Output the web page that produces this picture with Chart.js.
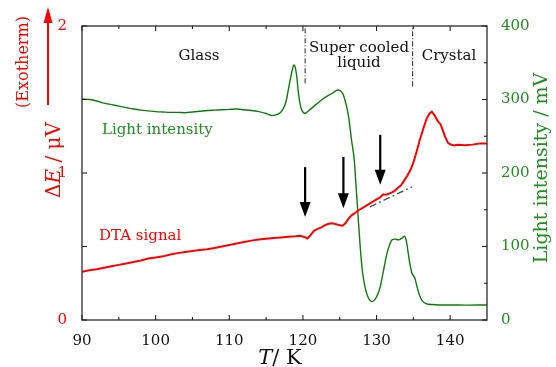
<!DOCTYPE html>
<html><head><meta charset="utf-8">
<script src="https://cdn.jsdelivr.net/npm/chart.js@4.4.1/dist/chart.umd.min.js"></script>
<style>html,body{margin:0;padding:0;background:#fff}canvas{display:block}</style>
</head><body>
<canvas id="c" width="556" height="367"></canvas>
<script>
// ---- data ----
const dtaT = [90,91,92,93,94,95,96,97,98,99,100,101,102,103,104,105,106,107,108,109,110,111,112,113,114,115,116,117,118,119,119.6,120.2,120.6,121.0,121.5,122,122.5,123,123.5,124,124.5,125,125.4,125.8,126.2,126.6,127,127.5,128,128.5,129,129.5,130,130.5,130.9,131.3,131.7,132.1,132.5,132.9,133.3,133.7,134.1,134.6,135.0,135.5,135.9,136.4,136.8,137.2,137.5,137.9,138.3,138.7,139.0,139.3,139.7,140,140.5,141,142,143,144,145];
const dtaV = [0.328,0.338,0.345,0.356,0.365,0.375,0.385,0.395,0.405,0.418,0.425,0.433,0.445,0.455,0.463,0.47,0.476,0.482,0.49,0.5,0.51,0.52,0.53,0.54,0.548,0.553,0.558,0.562,0.567,0.57,0.573,0.565,0.555,0.575,0.607,0.62,0.63,0.645,0.655,0.658,0.652,0.645,0.642,0.66,0.69,0.712,0.725,0.745,0.76,0.775,0.79,0.805,0.82,0.835,0.855,0.852,0.86,0.868,0.88,0.9,0.915,0.945,0.975,1.02,1.07,1.156,1.23,1.31,1.37,1.405,1.417,1.39,1.355,1.33,1.29,1.247,1.205,1.195,1.188,1.192,1.188,1.193,1.2,1.2];
const lightT = [90,91,92,93,94,95,96,97,98,99,100,101,102,103,104,105,106,107,108,109,110,111,112,113,114,115,115.8,116.3,116.8,117.3,117.7,118.0,118.3,118.6,118.8,119.0,119.2,119.4,119.7,120.0,120.3,120.7,121.4,122,122.6,123.2,124,124.5,124.8,125.2,125.5,125.9,126.2,126.6,127.0,127.2,127.4,127.6,127.8,128.1,128.5,128.9,129.4,129.8,130.2,130.5,130.9,131.4,131.8,132.1,132.5,133.0,133.4,133.8,134.1,134.3,134.5,134.8,135.2,135.5,135.9,136.3,136.8,137.5,138.5,140,142,145];
const lightV = [300.6,300,298,295,293,291,289,287,285.5,284.5,283.5,283,282.5,282.5,282,283,284,285,285.5,286,286.5,287,286,285,283.5,281,278,279,281,287,297,312,328,342,347,342,328,308,290,283,281,284,290,295,300,304,308.5,312,313,311,306,292,277,245,215,185,155,125,97,65,42,30,25,28,36,45,65,90,103,109,110,109,111,114,105,91,78,64,57,45,32,25,22,21,20.5,20.5,20.3,20.4];
const boundaryT = [120.3, 134.9];
const boundaryBottom = [1.61, 1.59];
const baselineT = [129.1, 134.8];
const baselineV = [0.77, 0.905];
const arrowT = [120.3, 125.5, 130.5];
const arrowFrom = [1.04, 1.11, 1.26];
const arrowTo = [0.70, 0.76, 0.92];
const xTicks = [90,100,110,120,130,140];
const xMinor = [95,105,115,125,135];
const leftTicks = [0,1,2];
const leftMinor = [0.5,1.5];
const rightTicks = [0,100,200,300,400];
const rightMinor = [50,150,250,350];

const RED = '#ff0000', GREEN = '#0a7d0a', GREENTXT = '#1f8f1f';
const FONT = '"DejaVu Serif", serif';

const pts = (xs, ys) => xs.map((x, i) => ({x, y: ys[i]}));
const datasets = [
  {data: pts(dtaT, dtaV), yAxisID: 'y', borderColor: RED, borderWidth: 2, pointRadius: 0, tension: 0},
  {data: pts(baselineT, baselineV), yAxisID: 'y', borderColor: '#555', borderWidth: 1.4, borderDash: [7,3,2,3], pointRadius: 0},
  {data: pts(lightT, lightV), yAxisID: 'y2', borderColor: GREEN, borderWidth: 1.4, pointRadius: 0, cubicInterpolationMode: 'monotone'},
];
boundaryT.forEach((t, i) => datasets.push({data: [{x: t, y: boundaryBottom[i]}, {x: t, y: 2}], yAxisID: 'y', borderColor: '#222', borderWidth: 1, borderDash: [5,2,1,2], pointRadius: 0}));

const overlay = {
  id: 'overlay',
  afterDatasetsDraw(chart) {
    const ctx = chart.ctx, xs = chart.scales.x, ys = chart.scales.y;
    ctx.save();
    ctx.fillStyle = '#000'; ctx.strokeStyle = '#000'; ctx.lineWidth = 2.2;
    arrowT.forEach((t, i) => {
      const x = xs.getPixelForValue(t), y1 = ys.getPixelForValue(arrowFrom[i]), y2 = ys.getPixelForValue(arrowTo[i]);
      ctx.beginPath(); ctx.moveTo(x, y1); ctx.lineTo(x, y2 - 12); ctx.stroke();
      ctx.beginPath(); ctx.moveTo(x - 5.5, y2 - 15); ctx.lineTo(x + 5.5, y2 - 15); ctx.lineTo(x, y2); ctx.closePath(); ctx.fill();
    });
    ctx.restore();
  },
  afterDraw(chart) {
    const ctx = chart.ctx, a = chart.chartArea, xs = chart.scales.x, ys = chart.scales.y, y2s = chart.scales.y2;
    ctx.save();
    // frame
    ctx.strokeStyle = '#3a3a3a'; ctx.lineWidth = 1.4;
    ctx.strokeRect(a.left, a.top, a.right - a.left, a.bottom - a.top);
    // inward ticks
    ctx.lineWidth = 1.1; ctx.strokeStyle = '#222';
    const tick = (x1, y1, x2, y2) => { ctx.beginPath(); ctx.moveTo(x1, y1); ctx.lineTo(x2, y2); ctx.stroke(); };
    xTicks.forEach(v => { const x = xs.getPixelForValue(v); tick(x, a.bottom, x, a.bottom - 5); tick(x, a.top, x, a.top + 5); });
    xMinor.forEach(v => { const x = xs.getPixelForValue(v); tick(x, a.bottom, x, a.bottom - 3); tick(x, a.top, x, a.top + 3); });
    leftTicks.concat(leftMinor).forEach(v => { const y = ys.getPixelForValue(v); tick(a.left, y, a.left + 5, y); });
    rightTicks.forEach(v => { const y = y2s.getPixelForValue(v); tick(a.right, y, a.right - 5, y); });
    rightMinor.forEach(v => { const y = y2s.getPixelForValue(v); tick(a.right, y, a.right - 3, y); });

    // in-plot labels
    ctx.textBaseline = 'alphabetic';
    ctx.font = '15px ' + FONT; ctx.fillStyle = '#111'; ctx.textAlign = 'center';
    ctx.fillText('Glass', 199, 60);
    ctx.fillText('Super cooled', 359, 52);
    ctx.fillText('liquid', 359, 67);
    ctx.fillText('Crystal', 449, 60);
    ctx.textAlign = 'left';
    ctx.fillStyle = GREENTXT; ctx.fillText('Light intensity', 102, 134);
    ctx.fillStyle = RED; ctx.fillText('DTA signal', 99, 240);

    const drawMixed = (parts, cx, cy, color) => {
      let w = 0;
      parts.forEach(p => { ctx.font = p[1]; w += ctx.measureText(p[0]).width; });
      let x = cx - w / 2;
      ctx.fillStyle = color; ctx.textAlign = 'left';
      parts.forEach(p => { ctx.font = p[1]; ctx.fillText(p[0], x, cy); x += ctx.measureText(p[0]).width; });
    };
    // x title
    drawMixed([['T', 'italic 21px ' + FONT], ['/ K', '21px ' + FONT]], 280, 364, '#111');

    // left titles (rotated)
    ctx.save(); ctx.translate(60, 160); ctx.rotate(-Math.PI / 2);
    drawMixed([['Δ', '20px ' + FONT], ['E', 'italic 20px ' + FONT], [' / μV', '20px ' + FONT]], 0, 0, RED);
    ctx.restore();
    ctx.save(); ctx.translate(28, 62); ctx.rotate(-Math.PI / 2);
    drawMixed([['(Exotherm)', '16px ' + FONT]], 0, 0, RED);
    ctx.restore();
    // exotherm arrow
    ctx.strokeStyle = RED; ctx.fillStyle = RED; ctx.lineWidth = 2;
    ctx.beginPath(); ctx.moveTo(48, 105); ctx.lineTo(48, 20); ctx.stroke();
    ctx.beginPath(); ctx.moveTo(43.5, 23); ctx.lineTo(52.5, 23); ctx.lineTo(48, 7); ctx.closePath(); ctx.fill();

    // right title
    ctx.save(); ctx.translate(547, 168); ctx.rotate(-Math.PI / 2);
    drawMixed([['Light intensity / mV', '19px ' + FONT]], 0, 0, GREENTXT);
    ctx.restore();
    ctx.restore();
  }
};

const setTicks = arr => s => { s.ticks = arr.map(v => ({value: v})); };
new Chart(document.getElementById('c'), {
  type: 'line',
  data: {datasets},
  options: {
    responsive: false, devicePixelRatio: 1, animation: false,
    layout: {padding: {top: 26, left: 0, right: 0, bottom: 0}},
    plugins: {legend: {display: false}, tooltip: {enabled: false}},
    scales: {
      x: {type: 'linear', position: 'bottom', min: 90, max: 145,
          grid: {display: false}, border: {display: false},
          afterBuildTicks: setTicks(xTicks), afterFit: s => { s.height = 47; },
          ticks: {autoSkip: false, maxRotation: 0, padding: 4, color: '#111', font: {family: FONT, size: 15}}},
      y: {type: 'linear', position: 'left', min: 0, max: 2,
          grid: {display: false}, border: {display: false},
          afterBuildTicks: setTicks(leftTicks), afterFit: s => { s.width = 82; },
          ticks: {padding: 7, color: RED, font: {family: FONT, size: 15}}},
      y2: {type: 'linear', position: 'right', min: 0, max: 400,
          grid: {display: false}, border: {display: false},
          afterBuildTicks: setTicks(rightTicks), afterFit: s => { s.width = 69; },
          ticks: {padding: 6, color: GREENTXT, font: {family: FONT, size: 15}}}
    }
  },
  plugins: [overlay]
});
</script>
</body></html>
